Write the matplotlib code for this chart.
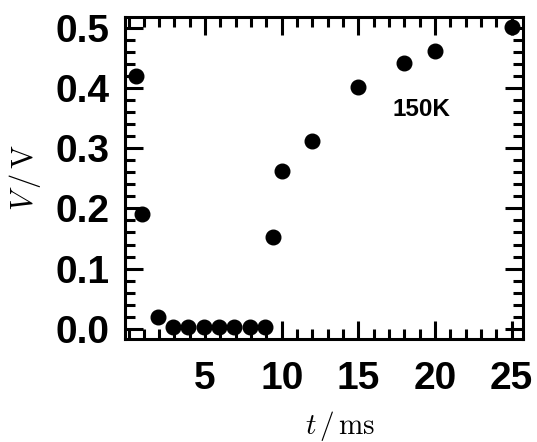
import matplotlib.pyplot as plt
from matplotlib.ticker import MultipleLocator

plt.rcParams['mathtext.fontset'] = 'cm'

# data
t_ms = [0.5, 0.9, 1.9, 2.9, 3.9, 4.9, 5.9, 6.9, 7.9, 8.9,
        9.45, 10.0, 12.0, 15.0, 18.0, 20.0, 25.0]
v_ratio = [0.42, 0.19, 0.02, 0.003, 0.003, 0.003, 0.003, 0.003, 0.003, 0.003,
           0.152, 0.262, 0.312, 0.402, 0.442, 0.462, 0.502]
x_ticks = [5, 10, 15, 20, 25]
y_ticks = [0.0, 0.1, 0.2, 0.3, 0.4, 0.5]
annotation = '150K'

fig = plt.figure(figsize=(5.37, 4.42), dpi=100)
ax = fig.add_axes([0.2328, 0.233, 0.7412, 0.7285])

ax.plot(t_ms, v_ratio, 'o', color='black', markersize=10.5, clip_on=False, zorder=5)

ax.set_xlim(-0.23, 25.75)
ax.set_ylim(-0.017, 0.518)
ax.set_xticks(x_ticks)
ax.set_yticks(y_ticks)
ax.xaxis.set_minor_locator(MultipleLocator(1))
ax.yaxis.set_minor_locator(MultipleLocator(0.02))
ax.set_yticklabels([f'{v:.1f}' for v in y_ticks])

for s in ax.spines.values():
    s.set_linewidth(2.2)

ax.tick_params(which='both', direction='in', top=True, right=True, width=2.2)
ax.tick_params(which='major', length=13)
ax.tick_params(which='minor', length=7)
ax.tick_params(axis='x', which='major', pad=16)
ax.tick_params(axis='y', which='major', pad=11)
for lab in ax.get_xticklabels() + ax.get_yticklabels():
    lab.set_fontfamily('Liberation Sans')
    lab.set_fontweight('bold')
    lab.set_fontsize(28)

ax.text(19.1, 0.365, annotation, fontsize=17.5, fontweight='bold',
        family='Liberation Sans', ha='center', va='center')

ax.set_xlabel(r'$t\,/\,\mathrm{ms}$', fontsize=21)
ax.set_ylabel(r'$V\,/\,\mathrm{V}$', fontsize=22)
ax.xaxis.set_label_coords(0.54, -0.218)
ax.yaxis.set_label_coords(-0.205, 0.5)

fig.savefig('out.png', dpi=100)
